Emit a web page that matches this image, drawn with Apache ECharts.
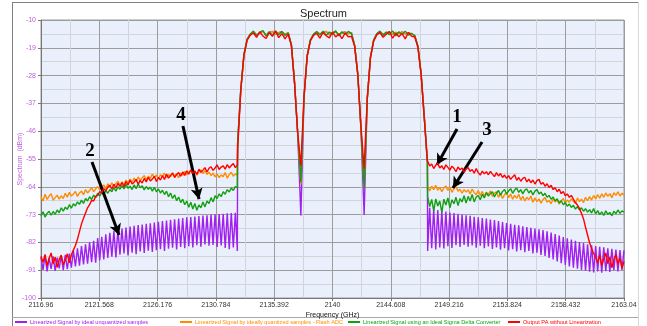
<!DOCTYPE html>
<html>
<head>
<meta charset="utf-8">
<script src="https://cdn.jsdelivr.net/npm/echarts@6/dist/echarts.min.js"></script>
<style>
  html, body { margin: 0; padding: 0; background: #fff; }
  #chart { width: 647px; height: 326px; }
</style>
</head>
<body>
<div id="chart"></div>
<script>
// sample grid (GHz)
const leftStart = 2116.96;
const rightStart = 2147.52;
const shoulderStep = 0.16;
const carrierStart = 2132.5;
const carrierStep = 0.25;

const xTicks = [2116.96, 2121.568, 2126.176, 2130.784, 2135.392, 2140, 2144.608, 2149.216, 2153.824, 2158.432, 2163.04];
const yTicks = [-100, -91, -82, -73, -64, -55, -46, -37, -28, -19, -10];

const seriesNames = [
  'Linearized Signal by ideal unquantized samples',
  'Linearized Signal by ideally quantized samples - Flash ADC',
  'Linearized Signal using an Ideal Sigma Delta Converter',
  'Output PA without Linearization'
];
const seriesColors = ['#a020f0', '#ff8c00', '#10a010', '#ff0000'];

// ---- left shoulder (2116.96 .. 2132.48) ----
const purpleLeft = [-86.8,-90.9,-86.2,-91.4,-87.0,-90.6,-86.5,-91.2,-86.9,-90.4,-86.3,-91.0,-86.0,-90.7,-85.6,-90.2,
  -84.6,-89.8,-83.9,-89.5,-83.2,-89.1,-82.6,-88.9,-82.0,-88.4,-81.5,-88.6,-80.6,-87.8,-80.2,-87.5,-79.4,-87.0,-78.9,-86.6,
  -78.3,-86.9,-77.8,-86.0,-77.5,-85.6,-77.2,-86.2,-76.9,-85.3,-76.6,-85.8,-76.4,-84.9,-76.2,-85.4,-76.0,-84.7,-75.8,-85.1,
  -75.6,-84.5,-75.3,-84.2,-75.1,-84.8,-74.9,-84.0,-74.7,-83.7,-74.5,-84.3,-74.3,-83.5,-74.1,-83.9,-73.9,-83.2,-73.8,-83.6,
  -73.6,-82.9,-73.5,-83.4,-73.3,-82.7,-73.2,-83.1,-73.0,-82.8,-72.9,-83.5,-72.8,-83.0,-72.7,-83.8,-72.6,-84.2,-72.5,-83.6,
  -72.4,-84.8];
const orangeLeft = [-67.2,-68.6,-66.4,-68.1,-67.0,-66.2,-68.3,-67.5,-66.7,-68.0,
  -66.9,-67.8,-66.1,-67.4,-65.8,-67.0,-66.3,-65.5,-67.1,-66.0,
  -65.4,-66.6,-64.9,-66.0,-65.2,-64.3,-65.6,-64.7,-63.9,-65.0,
  -64.2,-63.4,-64.6,-63.0,-64.1,-62.7,-63.8,-62.9,-62.2,-63.5,
  -62.4,-63.3,-61.8,-62.9,-61.5,-62.6,-61.2,-62.3,-60.8,-61.9,
  -61.1,-60.4,-61.7,-60.6,-61.3,-59.9,-61.0,-60.2,-61.4,-60.1,
  -60.7,-59.6,-61.0,-60.0,-60.8,-59.4,-60.5,-59.8,-61.1,-59.5,
  -60.3,-59.0,-60.1,-59.3,-58.7,-59.9,-58.9,-60.2,-59.1,-58.5,
  -59.7,-58.8,-60.0,-59.2,-60.4,-59.6,-60.8,-59.9,-61.0,-60.2,
  -60.7,-59.4,-61.2,-60.1,-59.3,-60.6,-59.8,-60.3];
const greenLeft = [-73.4,-72.1,-73.8,-72.6,-71.9,-73.2,-72.0,-72.9,-71.5,-72.4,
  -70.8,-71.9,-70.6,-71.3,-69.8,-70.9,-69.5,-70.2,-68.9,-69.7,
  -68.3,-69.4,-67.8,-68.6,-67.2,-68.1,-66.7,-67.5,-66.1,-67.0,
  -65.8,-66.6,-65.2,-66.1,-64.9,-65.6,-64.3,-65.4,-64.0,-64.8,
  -63.6,-64.7,-63.2,-64.5,-63.8,-64.9,-63.4,-64.6,-63.1,-64.3,
  -63.7,-65.0,-63.9,-64.8,-64.1,-65.4,-64.2,-65.6,-64.7,-66.0,
  -65.1,-66.5,-65.4,-67.2,-66.0,-67.8,-66.6,-68.5,-67.3,-69.1,
  -68.0,-69.8,-68.6,-70.6,-69.0,-71.2,-69.4,-71.6,-69.9,-70.8,
  -68.9,-70.5,-68.6,-69.4,-67.5,-68.9,-66.9,-67.8,-66.3,-67.2,
  -65.6,-66.4,-64.9,-65.7,-64.4,-65.2,-63.9,-64.3];
const redLeft = [-86.5,-88.4,-85.9,-89.6,-87.2,-85.4,-88.9,-86.8,-90.1,-87.5,
  -86.1,-89.2,-87.8,-85.7,-88.6,-86.0,-84.5,-83.0,-81.0,-78.5,
  -76.0,-74.2,-72.5,-70.8,-69.8,-68.4,-68.6,-67.1,-66.8,-65.6,
  -65.9,-64.6,-65.3,-64.1,-63.5,-64.8,-63.2,-64.4,-62.9,-63.9,
  -62.6,-64.0,-62.3,-63.4,-61.8,-63.1,-62.5,-61.6,-63.2,-61.9,
  -62.8,-61.3,-62.4,-60.9,-62.1,-61.5,-60.6,-62.3,-61.0,-61.8,
  -60.4,-61.6,-59.9,-61.2,-60.3,-59.6,-61.0,-60.0,-59.4,-60.6,
  -59.2,-60.3,-58.8,-59.9,-58.5,-59.6,-58.9,-60.0,-58.3,-59.3,
  -58.6,-57.8,-59.2,-58.0,-57.5,-58.7,-57.9,-56.9,-58.4,-57.6,
  -57.2,-58.3,-56.8,-57.9,-57.1,-56.5,-57.8,-57.0];

// ---- three carriers (2132.5 .. 2147.5) ----
const purpleCarrier = [-50.0,-32.5,-21.2,-16.3,-14.6,
  -13.9,-14.8,-14.3,-13.6,-14.9,-14.0,-13.7,-14.5,-14.1,-13.8,-14.6,-14.2,
  -18.0,-30.2,-46.8,-73.3,-35.0,-21.5,-16.5,-14.6,
  -13.9,-14.5,-14.1,-13.7,-14.8,-14.0,-13.8,-14.6,-14.2,-13.9,-14.4,-14.1,
  -18.2,-27.5,-45.2,-73.1,-35.5,-22.0,-16.6,-14.5,
  -13.8,-14.6,-14.2,-13.9,-14.7,-14.0,-14.4,-13.8,-14.5,-14.1,-14.6,-15.0,
  -18.5,-27.2,-41.2,-56.0];
const orangeCarrier = [-50.0,-32.5,-21.2,-16.3,-14.6,
  -13.9,-14.8,-14.3,-13.6,-14.9,-14.0,-13.7,-14.5,-14.1,-13.8,-14.6,-14.2,
  -18.0,-30.2,-46.8,-63.2,-35.0,-21.5,-16.5,-14.6,
  -13.9,-14.5,-14.1,-13.7,-14.8,-14.0,-13.8,-14.6,-14.2,-13.9,-14.4,-14.1,
  -18.2,-27.5,-45.2,-64.2,-35.5,-22.0,-16.6,-14.5,
  -13.8,-14.6,-14.2,-13.9,-14.7,-14.0,-14.4,-13.8,-14.5,-14.1,-14.6,-15.0,
  -18.5,-27.2,-41.2,-56.0];
const greenCarrier = [-50.0,-32.5,-21.2,-16.3,-14.6,
  -13.6,-15.1,-14.0,-13.4,-15.2,-13.8,-14.9,-13.5,-14.8,-13.7,-15.0,-14.2,
  -18.0,-30.2,-46.8,-62.5,-35.0,-21.5,-16.5,-14.6,
  -13.7,-14.9,-13.6,-15.0,-13.9,-14.7,-13.5,-15.1,-13.8,-14.6,-13.7,-14.4,
  -18.2,-27.5,-45.2,-64.5,-35.5,-22.0,-16.6,-14.5,
  -13.6,-15.0,-13.9,-14.8,-13.5,-15.1,-13.8,-14.7,-13.6,-14.9,-14.3,-15.2,
  -18.5,-27.2,-41.2,-56.0];
const redCarrier = [-52.0,-33.0,-21.5,-16.6,-14.9,
  -14.2,-15.6,-13.8,-15.2,-16.0,-14.1,-15.3,-13.6,-15.7,-14.4,-16.1,-14.6,
  -18.3,-30.5,-46.5,-57.2,-34.5,-21.8,-16.8,-15.0,
  -14.3,-15.9,-14.0,-15.1,-15.8,-13.9,-15.5,-14.5,-16.0,-14.2,-15.4,-15.3,
  -18.6,-27.8,-44.5,-58.1,-35.2,-22.3,-16.9,-14.8,
  -14.1,-15.6,-14.6,-13.7,-15.9,-14.3,-15.4,-14.4,-16.1,-14.0,-15.3,-15.4,
  -18.8,-27.5,-41.5,-55.5];

// ---- right shoulder (2147.52 .. 2163.04) ----
const purpleRight = [-84.8,-70.8,-83.9,-71.2,-84.3,-71.5,-83.6,-71.8,-84.0,-72.0,-83.2,-72.3,-83.8,-72.5,-82.9,-72.7,
  -83.5,-73.0,-82.8,-73.2,-83.4,-73.4,-83.0,-73.7,-83.7,-73.9,-83.1,-74.1,-83.9,-74.3,-83.3,-74.6,-84.1,-74.8,-83.6,-75.1,
  -84.4,-75.4,-83.9,-75.7,-84.6,-76.0,-84.2,-76.3,-84.9,-76.5,-84.5,-76.8,-85.2,-77.0,-84.8,-77.3,-85.6,-77.5,-85.3,-77.8,
  -86.1,-78.0,-86.4,-78.4,-87.0,-78.8,-87.5,-79.3,-88.2,-79.8,-88.7,-80.3,-89.3,-80.7,-89.8,-81.1,-90.2,-81.5,-90.5,-81.9,
  -90.9,-82.2,-91.2,-82.6,-91.5,-82.9,-91.7,-83.2,-91.4,-83.4,-91.8,-83.6,-91.3,-83.9,-91.6,-84.1,-91.0,-84.3,-91.4,-84.5,
  -90.9,-84.6];
const orangeRight = [-64.0,-65.3,-63.8,-64.9,-63.5,-65.1,-64.2,-65.6,-64.4,-63.7,
  -65.2,-64.1,-65.8,-64.6,-63.9,-65.4,-64.8,-66.1,-64.9,-65.7,
  -65.0,-66.3,-64.7,-65.9,-66.6,-65.2,-66.8,-65.5,-67.0,-65.8,
  -66.4,-65.3,-67.1,-66.0,-65.6,-67.4,-66.2,-67.8,-66.5,-65.9,
  -67.5,-66.3,-68.0,-66.8,-67.7,-66.4,-68.3,-67.1,-68.6,-67.4,
  -68.2,-67.0,-69.0,-67.6,-68.8,-67.9,-69.3,-68.1,-67.5,-69.0,
  -68.4,-69.5,-67.9,-68.9,-68.2,-69.6,-68.5,-67.8,-69.2,-68.3,
  -69.0,-67.9,-68.7,-69.4,-67.6,-68.8,-68.0,-69.1,-67.4,-68.5,
  -67.2,-68.3,-66.8,-67.9,-66.5,-67.7,-66.3,-67.4,-66.0,-67.1,
  -66.2,-67.5,-65.9,-66.8,-65.6,-67.0,-66.1,-66.7];
const greenRight = [-67.2,-70.4,-68.1,-71.8,-67.9,-70.2,-68.6,-72.3,-68.0,-69.9,
  -67.6,-70.8,-68.2,-69.5,-67.4,-70.1,-67.8,-68.9,-66.9,-69.3,
  -67.1,-68.6,-66.5,-68.9,-67.3,-66.8,-68.2,-66.4,-67.6,-65.9,
  -67.0,-66.2,-65.6,-67.3,-66.0,-65.2,-66.7,-65.5,-64.9,-66.4,
  -65.3,-64.6,-66.1,-65.0,-64.4,-65.8,-64.9,-66.3,-65.1,-64.7,
  -66.0,-65.2,-66.6,-65.4,-64.9,-66.3,-65.7,-66.9,-66.1,-67.4,
  -66.8,-68.0,-67.3,-68.6,-67.9,-69.2,-68.5,-69.8,-69.1,-70.3,
  -69.6,-70.7,-70.0,-71.2,-70.4,-71.5,-70.8,-71.9,-71.1,-72.2,
  -71.4,-72.5,-71.0,-72.8,-71.7,-73.0,-72.1,-73.3,-71.8,-72.9,
  -72.3,-73.4,-71.9,-72.7,-71.5,-72.6,-71.8,-72.2];
const redRight = [-56.0,-57.3,-56.6,-58.1,-57.0,-56.4,-57.9,-57.2,-58.4,-56.9,
  -57.7,-58.6,-57.3,-58.0,-59.1,-57.6,-58.5,-57.9,-59.3,-58.2,
  -57.8,-59.0,-58.4,-59.6,-58.1,-59.4,-60.2,-58.9,-59.8,-59.1,
  -60.1,-59.0,-59.9,-60.7,-59.4,-60.5,-59.7,-61.0,-60.2,-61.3,
  -60.4,-61.6,-60.8,-60.1,-61.9,-61.0,-62.2,-61.3,-60.9,-62.4,
  -61.5,-62.7,-61.8,-63.1,-62.0,-61.6,-63.2,-62.6,-63.8,-63.0,
  -64.2,-63.5,-64.9,-64.3,-65.6,-64.8,-66.2,-65.5,-66.9,-66.3,
  -67.4,-66.8,-68.0,-69.1,-69.9,-71.0,-72.6,-74.4,-77.1,-79.6,
  -82.1,-84.0,-85.6,-86.9,-88.6,-86.2,-89.5,-87.3,-85.4,-88.9,
  -86.7,-90.2,-87.6,-85.9,-89.1,-87.0,-90.4,-88.2];

// annotation arrows: label text position, arrow start, arrow tip (GHz, dBm)
const arrowLabels = ['1', '2', '3', '4'];
const arrowText = [[2149.84, -41.4], [2120.83, -52.4], [2152.21, -45.6], [2128.03, -40.8]];
const arrowFrom = [[2149.84, -45.3], [2120.99, -56.0], [2151.82, -49.5], [2128.18, -44.3]];
const arrowTo = [[2148.26, -56.9], [2123.13, -79.6], [2149.52, -64.4], [2129.45, -68.0]];

const toPoints = (vals, start, step) => vals.map((v, i) => [+(start + i * step).toFixed(3), v]);
const build = (l, c, r) => [].concat(
  toPoints(l, leftStart, shoulderStep),
  toPoints(c, carrierStart, carrierStep),
  toPoints(r, rightStart, shoulderStep)
);

const seriesData = [
  build(purpleLeft, purpleCarrier, purpleRight),
  build(orangeLeft, orangeCarrier, orangeRight),
  build(greenLeft, greenCarrier, greenRight),
  build(redLeft, redCarrier, redRight)
];

const font = '"Liberation Sans", Arial, sans-serif';
const legendLeft = [15, 180, 348, 508];

const chart = echarts.init(document.getElementById('chart'), null, { renderer: 'canvas' });

const series = seriesData.map((d, i) => ({
  name: seriesNames[i],
  type: 'line',
  data: d,
  symbol: 'none',
  z: 2 + i,
  lineStyle: { color: seriesColors[i], width: 1.4 },
  itemStyle: { color: seriesColors[i] },
  animation: false
}));

series[3].markLine = {
  silent: true,
  symbol: ['none', 'arrow'],
  symbolSize: [9, 11],
  label: { show: false },
  lineStyle: { color: '#000', width: 3, type: 'solid' },
  data: arrowFrom.map((p, i) => [{ coord: p }, { coord: arrowTo[i] }]),
  animation: false
};
series[3].markPoint = {
  silent: true,
  symbol: 'rect',
  symbolSize: 1,
  itemStyle: { color: 'rgba(0,0,0,0)' },
  label: {
    show: true, position: 'inside', color: '#000',
    fontFamily: '"Liberation Serif", "DejaVu Serif", serif',
    fontWeight: 'bold', fontSize: 19,
    formatter: p => p.name
  },
  data: arrowText.map((p, i) => ({ name: arrowLabels[i], coord: p })),
  animation: false
};

const option = {
  backgroundColor: '#fff',
  animation: false,
  title: {
    text: 'Spectrum',
    left: 'center',
    top: 3,
    textStyle: { fontFamily: font, fontSize: 11, fontWeight: 'normal', color: '#222' }
  },
  legend: seriesNames.map((n, i) => ({
    left: legendLeft[i],
    top: 319,
    padding: 0,
    icon: 'rect',
    itemWidth: 12,
    itemHeight: 2,
    selectedMode: false,
    textStyle: { fontFamily: font, fontSize: 5.6, color: seriesColors[i], padding: [0, 0, 0, -2] },
    data: [{ name: n }]
  })),
  grid: {
    left: 41, right: 23, top: 20, bottom: 28,
    outerBoundsMode: 'none',
    containLabel: false,
    show: true,
    backgroundColor: '#eaf0fb',
    borderColor: '#9a9a9a',
    borderWidth: 1
  },
  xAxis: {
    type: 'value',
    min: xTicks[0],
    max: xTicks[xTicks.length - 1],
    interval: 4.608,
    name: 'Frequency (GHz)',
    nameLocation: 'middle',
    nameGap: 14,
    nameMoveOverlap: false,
    nameTextStyle: { fontFamily: font, fontSize: 7, color: '#111' },
    axisLine: { show: true, lineStyle: { color: '#777' } },
    axisTick: { show: true, length: 3, lineStyle: { color: '#777' } },
    axisLabel: {
      fontFamily: font, fontSize: 7, color: '#333', margin: 4,
      formatter: v => String(+v.toFixed(3))
    },
    splitLine: { show: true, lineStyle: { color: '#9c9c9c', width: 1 } },
    minorTick: { show: false, splitNumber: 2 },
    minorSplitLine: { show: true, lineStyle: { color: '#cfd4dd', width: 1 } }
  },
  yAxis: {
    type: 'value',
    min: yTicks[0],
    max: yTicks[yTicks.length - 1],
    interval: 9,
    name: 'Spectrum  (dBm)',
    nameLocation: 'middle',
    nameGap: 17,
    nameMoveOverlap: false,
    nameTextStyle: { fontFamily: font, fontSize: 7, color: '#c060e0' },
    axisLine: { show: true, lineStyle: { color: '#777' } },
    axisTick: { show: true, length: 3, lineStyle: { color: '#777' } },
    axisLabel: { fontFamily: font, fontSize: 7, color: '#c060e0', margin: 5 },
    splitLine: { show: true, lineStyle: { color: '#9c9c9c', width: 1 } },
    minorTick: { show: false, splitNumber: 2 },
    minorSplitLine: { show: true, lineStyle: { color: '#cfd4dd', width: 1 } }
  },
  graphic: [
    { type: 'line', shape: { x1: 12.5, y1: 2, x2: 12.5, y2: 326 }, style: { stroke: '#808080', lineWidth: 1 }, silent: true },
    { type: 'line', shape: { x1: 12, y1: 2.5, x2: 638, y2: 2.5 }, style: { stroke: '#808080', lineWidth: 1 }, silent: true },
    { type: 'line', shape: { x1: 638.5, y1: 2, x2: 638.5, y2: 326 }, style: { stroke: '#d8d8d8', lineWidth: 1 }, silent: true },
    { type: 'line', shape: { x1: 12, y1: 317.5, x2: 638, y2: 317.5 }, style: { stroke: '#a8a8a8', lineWidth: 1 }, silent: true }
  ],
  series: series
};

chart.setOption(option);
window.addEventListener('resize', () => chart.resize());
</script>
</body>
</html>
